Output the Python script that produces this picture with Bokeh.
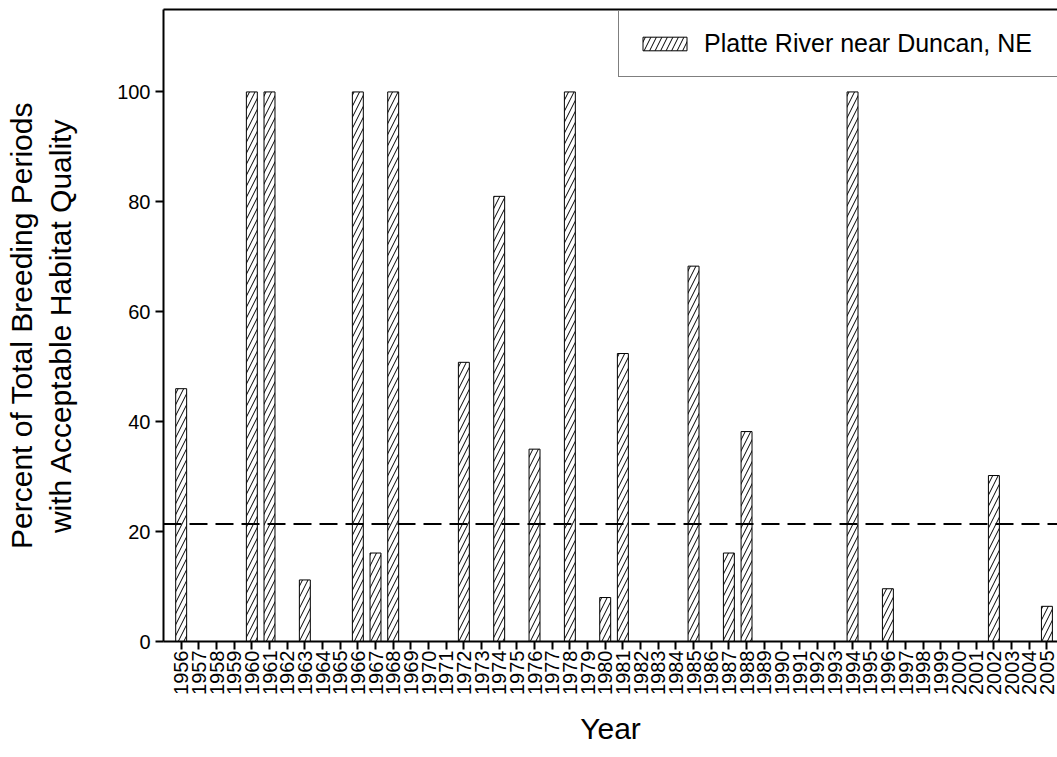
from bokeh.plotting import figure
from bokeh.models import (ColumnDataSource, FixedTicker, LinearAxis, Span,
                          Legend, LegendItem, Range1d)
from bokeh.embed import file_html
from bokeh.resources import INLINE
import math

# Percent of breeding periods with acceptable habitat quality, by year
years = list(range(1956, 2006))
percent = [
    46.0, 0, 0, 0, 100, 100, 0, 11.2, 0, 0,        # 1956-1965
    100, 16.1, 100, 0, 0, 0, 50.8, 0, 81.0, 0,     # 1966-1975
    35.0, 0, 100, 0, 8.0, 52.4, 0, 0, 0, 68.3,     # 1976-1985
    0, 16.1, 38.2, 0, 0, 0, 0, 0, 100, 0,          # 1986-1995
    9.6, 0, 0, 0, 0, 0, 30.2, 0, 0, 6.4,           # 1996-2005
]
y_ticks = [0, 20, 40, 60, 80, 100]
threshold = 21.4
series_name = "Platte River near Duncan, NE"

FONT = "Liberation Sans"
INK = "black"

src = ColumnDataSource(data=dict(year=years, pct=percent))

p = figure(width=1057, height=757, output_backend="svg", toolbar_location=None,
           x_range=Range1d(1955, 2005.6), y_range=Range1d(0, 115),
           min_border_left=163, min_border_right=0,
           min_border_top=9, min_border_bottom=116)

p.outline_line_color = None
p.xgrid.visible = False
p.ygrid.visible = False
p.background_fill_color = "white"
p.border_fill_color = "white"

bars = p.vbar(x="year", top="pct", width=0.62, bottom=0, source=src,
              fill_color="white", line_color=INK, line_width=1,
              hatch_pattern="/", hatch_color=INK, hatch_scale=11,
              hatch_weight=1)

# threshold reference line
p.add_layout(Span(location=threshold, dimension="width", line_color=INK,
                  line_width=2, line_dash="18 8"))

# x axis: one tick per year, vertical labels
xa = p.xaxis[0]
xa.ticker = FixedTicker(ticks=years)
xa.major_label_orientation = math.pi / 2
xa.axis_label = "Year"
xa.axis_label_text_font = FONT
xa.axis_label_text_font_size = "30px"
xa.axis_label_text_font_style = "normal"
xa.axis_label_text_color = INK
xa.axis_label_standoff = 14
xa.major_label_text_font = FONT
xa.major_label_text_font_size = "20px"
xa.major_label_text_color = INK
xa.major_label_standoff = 1
xa.minor_tick_line_color = None
xa.major_tick_in = 0
xa.major_tick_out = 8
xa.major_tick_line_width = 2
xa.major_tick_line_color = INK
xa.axis_line_width = 2
xa.axis_line_color = INK

# y axis
ya = p.yaxis[0]
ya.ticker = FixedTicker(ticks=y_ticks)
ya.axis_label = "Percent of Total Breeding Periods\nwith Acceptable Habitat Quality"
ya.axis_label_text_font = FONT
ya.axis_label_text_font_size = "30px"
ya.axis_label_text_font_style = "normal"
ya.axis_label_text_color = INK
ya.axis_label_standoff = 37
ya.major_label_text_font = FONT
ya.major_label_text_font_size = "20px"
ya.major_label_text_color = INK
ya.major_label_standoff = 5
ya.minor_tick_line_color = None
ya.major_tick_in = 0
ya.major_tick_out = 8
ya.major_tick_line_width = 2
ya.major_tick_line_color = INK
ya.axis_line_width = 2
ya.axis_line_color = INK

# top border of the frame
top = LinearAxis(major_tick_line_color=None, minor_tick_line_color=None,
                 major_label_text_font_size="0px", major_label_standoff=0,
                 axis_line_width=2, axis_line_color=INK,
                 ticker=FixedTicker(ticks=[]))
p.add_layout(top, "above")

legend = Legend(items=[LegendItem(label=series_name, renderers=[bars])],
                location=(455, 564), orientation="vertical",
                border_line_color=INK, border_line_width=1,
                background_fill_color="white", background_fill_alpha=1,
                padding=18, margin=0, spacing=0,
                glyph_width=55, glyph_height=17, label_standoff=12,
                label_width=420, label_height=17,
                label_text_font=FONT, label_text_font_size="25px",
                label_text_color=INK)
p.add_layout(legend, "center")

open("out.html", "w").write(file_html(p, INLINE))
